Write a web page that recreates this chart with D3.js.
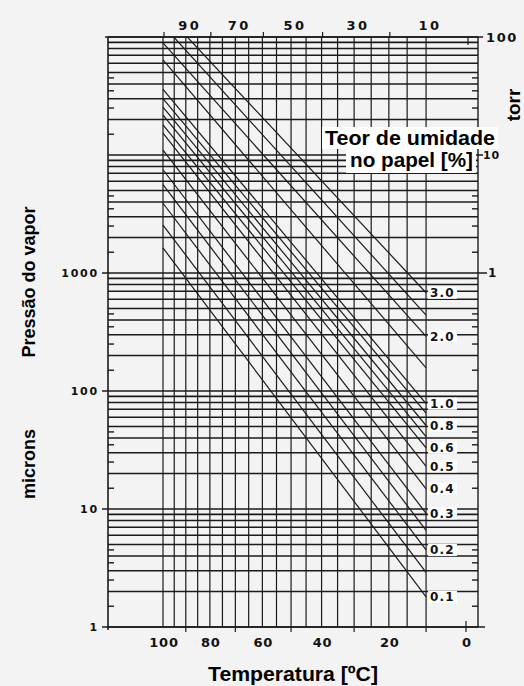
<!DOCTYPE html>
<html>
<head>
<meta charset="utf-8">
<script src="https://cdn.jsdelivr.net/npm/d3@7"></script>
<style>
  html, body { margin: 0; padding: 0; background: #f3f3f3; }
  svg { display: block; }
  .num { font-family: "DejaVu Sans", sans-serif; font-weight: bold; fill: #111; }
  .title { font-family: "Liberation Sans", Arial, sans-serif; font-weight: bold; fill: #000; }
</style>
</head>
<body>
<svg id="chart" width="524" height="686"></svg>
<script>
// ---- Data -------------------------------------------------------------
// Temperature grid, °C (vertical lines every 5 degrees)
const gridTemps = [100, 95, 90, 85, 80, 75, 70, 65, 60, 55, 50, 45, 40, 35, 30, 25, 20, 15, 10];
const bottomLabels = [100, 80, 60, 40, 20, 0];
const topLabels = [90, 70, 50, 30, 10];
const bottomMinorTicks = [90, 70, 50, 30, 10];
const topMinorTicks = [100, 80, 60, 40, 20];

// Vapour pressure axis, microns (left) and torr (right)
const micronLabels = [1, 10, 100, 1000];
const torrLabels = [1, 10, 100];
const halfTickFactors = [1.5, 2.5, 3.5, 4.5];

// Moisture content in paper [%]: vapour pressure (microns) at 100 °C and at 10 °C
const moisture      = [3.0,    2.5,    2.0,   1.5,   1.0,   0.9,   0.8,   0.7,   0.6,   0.5,   0.4,   0.3,  0.25, 0.2,  0.15, 0.1];
const pressureAt100 = [166000, 126000, 89000, 64000, 36000, 30000, 25500, 21800, 18000, 15300, 11000, 7500, 5600, 3900, 2550, 1630];
const pressureAt10  = [680,    440,    290,   157,   78,    65,    51,    41,    33,    23,    14.8,  9.2,  6.6,  4.5,  2.9,  1.8];
const labelledMoisture = [3.0, 2.0, 1.0, 0.8, 0.6, 0.5, 0.4, 0.3, 0.2, 0.1];

// ---- Scales -----------------------------------------------------------
const K = 273.15;
// Temperature axis is linear in 1/T (absolute), hot on the left
const xInv = d3.scaleLinear().domain([1 / (100 + K), 1 / (0 + K)]).range([163, 466]);
const x = t => xInv(1 / (t + K));
const y = d3.scaleLog().domain([1, 1e5]).range([627, 37]);

const svg = d3.select("#chart");
const ink = "#1b1b1b";
const L = 108, R = 478, T = y(1e5), B = y(1);

svg.append("rect").attr("width", 524).attr("height", 686).attr("fill", "#f3f3f3");

svg.append("clipPath").attr("id", "plotArea")
  .append("rect").attr("x", L).attr("y", T).attr("width", R - L).attr("height", B - T);

const grid = svg.append("g").attr("stroke", ink).attr("fill", "none");

// horizontal pressure lines (1..9 per decade)
grid.selectAll("line.h").data(y.ticks()).join("line")
  .attr("class", "h")
  .attr("x1", L).attr("x2", R)
  .attr("y1", d => y(d)).attr("y2", d => y(d))
  .attr("stroke-width", 1.6);

// vertical temperature lines
grid.selectAll("line.v").data(gridTemps).join("line")
  .attr("class", "v")
  .attr("x1", d => x(d)).attr("x2", d => x(d))
  .attr("y1", T).attr("y2", B)
  .attr("stroke-width", 1.2);

// frame
grid.append("line").attr("x1", L).attr("x2", L).attr("y1", T).attr("y2", B + 3).attr("stroke-width", 1.6);
grid.append("line").attr("x1", R).attr("x2", R).attr("y1", T).attr("y2", B).attr("stroke-width", 1.4);
grid.append("line").attr("x1", L - 3).attr("x2", R).attr("y1", T).attr("y2", T).attr("stroke-width", 1.6);
grid.append("line").attr("x1", L).attr("x2", R + 7).attr("y1", B).attr("y2", B).attr("stroke-width", 1.6);

// half-value ticks on both pressure axes
const halfTicks = [];
[1, 10, 100, 1000, 10000].forEach(dec => halfTickFactors.forEach(f => halfTicks.push(dec * f)));
grid.selectAll("line.lt").data(halfTicks).join("line")
  .attr("x1", L).attr("x2", L + 6).attr("y1", d => y(d)).attr("y2", d => y(d)).attr("stroke-width", 1.4);
grid.selectAll("line.rt").data(halfTicks).join("line")
  .attr("x1", R - 6).attr("x2", R).attr("y1", d => y(d)).attr("y2", d => y(d)).attr("stroke-width", 1.4);

// decade ticks outside the frame
grid.selectAll("line.ld").data(micronLabels).join("line")
  .attr("x1", L - 6).attr("x2", L).attr("y1", d => y(d)).attr("y2", d => y(d)).attr("stroke-width", 1.5);
grid.selectAll("line.rd").data(torrLabels).join("line")
  .attr("x1", R).attr("x2", d => R + (d === 1 ? 9 : 5)).attr("y1", d => y(d * 1000)).attr("y2", d => y(d * 1000)).attr("stroke-width", 1.5);

// temperature ticks
grid.selectAll("line.bt").data(bottomMinorTicks).join("line")
  .attr("x1", d => x(d)).attr("x2", d => x(d)).attr("y1", B).attr("y2", B + 5).attr("stroke-width", 1.2);
grid.selectAll("line.tt").data(topMinorTicks).join("line")
  .attr("x1", d => x(d) + 1).attr("x2", d => x(d) + 1).attr("y1", T - 5).attr("y2", T).attr("stroke-width", 1.2);
grid.append("line").attr("x1", x(0)).attr("x2", x(0)).attr("y1", B - 6).attr("y2", B + 5).attr("stroke-width", 1.2);
grid.append("line").attr("x1", x(0) + 2).attr("x2", x(0) + 2).attr("y1", T).attr("y2", T + 8).attr("stroke-width", 1.2);

// moisture content lines
svg.append("g").attr("clip-path", "url(#plotArea)")
  .selectAll("line").data(moisture).join("line")
  .attr("x1", x(100)).attr("y1", (d, i) => y(pressureAt100[i]))
  .attr("x2", x(10)).attr("y2", (d, i) => y(pressureAt10[i]))
  .attr("stroke", ink).attr("stroke-width", 1.2);

// ---- Labels -----------------------------------------------------------
// moisture labels at the 10 °C end of each line
const labelled = moisture.map((m, i) => ({ m, p: pressureAt10[i] }))
  .filter(d => labelledMoisture.includes(d.m));
const lab = svg.append("g");
lab.selectAll("rect").data(labelled).join("rect")
  .attr("x", x(10) + 2).attr("y", d => y(d.p) - 6).attr("width", 29).attr("height", 12).attr("fill", "#fff");
lab.selectAll("text").data(labelled).join("text")
  .attr("class", "num")
  .attr("x", x(10) + 4).attr("y", d => y(d.p)).attr("dy", "0.36em")
  .attr("font-size", 12).attr("letter-spacing", 1.2)
  .text(d => d.m.toFixed(1));

// left axis labels (microns)
svg.append("g").selectAll("text").data(micronLabels).join("text")
  .attr("class", "num").attr("text-anchor", "end")
  .attr("x", 99).attr("y", d => y(d)).attr("dy", "0.36em")
  .attr("font-size", 11).attr("letter-spacing", 1.8)
  .text(d => d);

// right axis labels (torr)
const rl = svg.append("g");
rl.append("text").attr("class", "num").attr("x", 486).attr("y", y(1e5)).attr("dy", "0.36em")
  .attr("font-size", 13).attr("letter-spacing", 1.6).text(torrLabels[2]);
rl.append("text").attr("class", "num").attr("x", 483).attr("y", y(1e4)).attr("dy", "0.36em")
  .attr("font-size", 11).attr("font-weight", "normal").attr("letter-spacing", 0.8).text(torrLabels[1]);
rl.append("text").attr("class", "num").attr("x", 488).attr("y", y(1e3)).attr("dy", "0.36em")
  .attr("font-size", 12).text(torrLabels[0]);

// temperature labels
svg.append("g").selectAll("text").data(bottomLabels).join("text")
  .attr("class", "num").attr("text-anchor", "middle")
  .attr("x", d => x(d) + 1).attr("y", 647)
  .attr("font-size", 13).attr("letter-spacing", 0.8)
  .text(d => d);
svg.append("g").selectAll("text").data(topLabels).join("text")
  .attr("class", "num").attr("text-anchor", "middle")
  .attr("x", d => x(d) + 4).attr("y", 30)
  .attr("font-size", 13).attr("letter-spacing", 2.5)
  .text(d => d);

// legend caption with white backing
const cap = svg.append("g");
cap.append("rect").attr("x", 322).attr("y", 127).attr("width", 176).attr("height", 22).attr("fill", "#fff");
cap.append("rect").attr("x", 346).attr("y", 149).attr("width", 130).attr("height", 24).attr("fill", "#fff");
cap.append("text").attr("class", "title").attr("x", 325).attr("y", 145)
  .attr("font-size", 20).attr("textLength", 170).attr("lengthAdjust", "spacingAndGlyphs").text("Teor de umidade");
cap.append("text").attr("class", "title").attr("x", 350).attr("y", 167)
  .attr("font-size", 20).attr("textLength", 123).attr("lengthAdjust", "spacingAndGlyphs").text("no papel [%]");

// axis titles
svg.append("text").attr("class", "title")
  .attr("transform", "translate(35,282) rotate(-90)").attr("text-anchor", "middle")
  .attr("font-size", 18).text("Pressão do vapor");
svg.append("text").attr("class", "title")
  .attr("transform", "translate(35,464) rotate(-90)").attr("text-anchor", "middle")
  .attr("font-size", 18).text("microns");
svg.append("text").attr("class", "title")
  .attr("transform", "translate(520,105) rotate(-90)").attr("text-anchor", "middle")
  .attr("font-size", 19).text("torr");
svg.append("text").attr("class", "title")
  .attr("x", 293).attr("y", 681).attr("text-anchor", "middle")
  .attr("font-size", 20).attr("textLength", 170).attr("lengthAdjust", "spacingAndGlyphs")
  .text("Temperatura [ºC]");
</script>
</body>
</html>
